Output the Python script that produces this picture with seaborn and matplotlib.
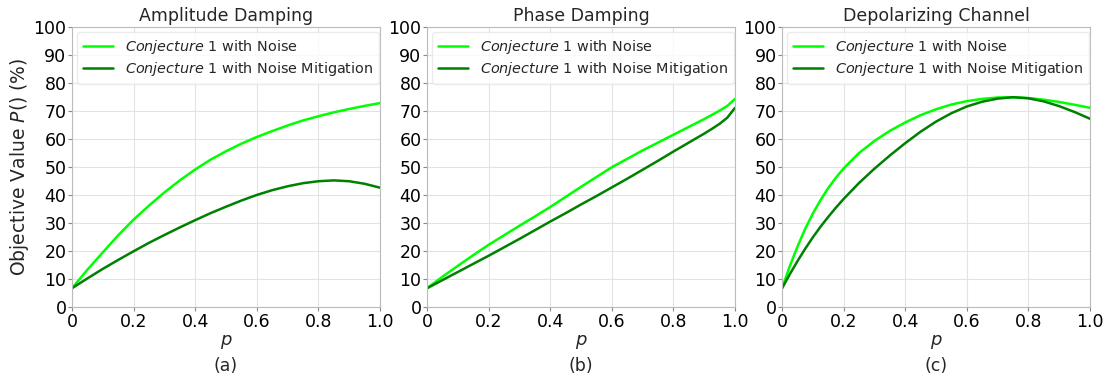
import numpy as np
import pandas as pd
import matplotlib
matplotlib.use("Agg")
import matplotlib.pyplot as plt
import seaborn as sns

amp_p = [0.00, 0.05, 0.10, 0.15, 0.20, 0.25, 0.30, 0.35, 0.40, 0.45, 0.50,
         0.55, 0.60, 0.65, 0.70, 0.75, 0.80, 0.85, 0.90, 0.95, 1.00]
amp_noise = [6.7, 13.3, 19.5, 25.6, 31.2, 36.2, 40.9, 45.2, 49.1, 52.6, 55.6,
             58.3, 60.7, 62.8, 64.8, 66.6, 68.1, 69.5, 70.7, 71.8, 72.8]
amp_mitig = [6.7, 10.2, 13.6, 16.8, 19.9, 22.9, 25.7, 28.4, 31.0, 33.5, 35.8,
             38.0, 40.0, 41.7, 43.1, 44.2, 44.9, 45.2, 44.9, 44.0, 42.6]

phase_p = [0.00, 0.05, 0.10, 0.15, 0.20, 0.25, 0.30, 0.35, 0.40, 0.45, 0.50,
           0.55, 0.60, 0.65, 0.70, 0.75, 0.80, 0.85, 0.90, 0.925, 0.95, 0.975, 1.00]
phase_noise = [6.7, 10.8, 14.7, 18.5, 22.2, 25.6, 29.0, 32.3, 35.7, 39.3, 42.9,
               46.4, 49.9, 52.9, 55.9, 58.7, 61.5, 64.3, 67.1, 68.6, 70.1, 71.8, 74.3]
phase_mitig = [6.7, 9.6, 12.5, 15.4, 18.3, 21.3, 24.3, 27.4, 30.5, 33.5, 36.6,
               39.6, 42.7, 45.8, 49.0, 52.2, 55.5, 58.7, 61.9, 63.6, 65.4, 67.6, 71.1]

depol_p = [0.00, 0.025, 0.05, 0.075, 0.10, 0.125, 0.15, 0.175, 0.20, 0.25, 0.30,
           0.35, 0.40, 0.45, 0.50, 0.55, 0.60, 0.65, 0.70, 0.75, 0.80, 0.85,
           0.90, 0.95, 1.00]
depol_noise = [6.7, 14.6, 21.6, 27.9, 33.4, 38.2, 42.5, 46.2, 49.5, 55.0, 59.3,
               62.9, 65.9, 68.5, 70.6, 72.3, 73.5, 74.3, 74.8, 74.9, 74.6, 74.0,
               73.2, 72.2, 71.1]
depol_mitig = [6.7, 11.7, 16.4, 20.8, 24.9, 28.7, 32.2, 35.5, 38.6, 44.3, 49.4,
               54.1, 58.5, 62.6, 66.2, 69.2, 71.6, 73.3, 74.4, 74.9, 74.5, 73.4,
               71.7, 69.6, 67.2]

titles = ["Amplitude Damping", "Phase Damping", "Depolarizing Channel"]
captions = ["(a)", "(b)", "(c)"]
series_labels = [r"$\it{Conjecture}$ 1 with Noise",
                 r"$\it{Conjecture}$ 1 with Noise Mitigation"]
x_ticks = [0, 0.2, 0.4, 0.6, 0.8, 1.0]
x_tick_labels = ["0", "0.2", "0.4", "0.6", "0.8", "1.0"]
y_ticks = [0, 10, 20, 30, 40, 50, 60, 70, 80, 90, 100]

panels = [(amp_p, amp_noise, amp_mitig), (phase_p, phase_noise, phase_mitig),
          (depol_p, depol_noise, depol_mitig)]

sns.set_style("whitegrid", {"axes.edgecolor": "#bbbbbb", "grid.color": "#e3e3e3",
                            "xtick.bottom": True, "ytick.left": True})
plt.rcParams['font.family'] = ['DejaVu Sans']
plt.rcParams['mathtext.fontset'] = 'dejavusans'

fig, axes = plt.subplots(1, 3, figsize=(11.18, 3.79), dpi=100)
fig.subplots_adjust(left=0.0644, right=0.975, bottom=0.19, top=0.929, wspace=0.153)

colors = ["#00ff00", "#008000"]
for i, ax in enumerate(axes):
    pv, noise, mitig = panels[i]
    df = pd.DataFrame({"p": list(pv) * 2,
                       "val": list(noise) + list(mitig),
                       "series": [series_labels[0]] * len(pv) + [series_labels[1]] * len(pv)})
    sns.lineplot(data=df, x="p", y="val", hue="series", palette=colors, ax=ax,
                 linewidth=1.8)
    ax.set_xlim(0, 1)
    ax.set_ylim(0, 100)
    ax.set_xticks(x_ticks)
    ax.set_xticklabels(x_tick_labels)
    ax.set_yticks(y_ticks)
    ax.tick_params(axis="both", labelsize=12.5, colors="#888888", labelcolor="black",
                   direction="out", length=3, width=0.8, pad=1)
    ax.set_title(titles[i], fontsize=12.5, pad=4)
    ax.set_xlabel(r"$p$", fontsize=13, labelpad=2)
    ax.set_ylabel("")
    for s in ax.spines.values():
        s.set_color("#bbbbbb")
        s.set_linewidth(0.8)
    leg = ax.legend(loc="upper left", fontsize=10.4, frameon=True, handlelength=2.1,
                    borderaxespad=0.35, labelspacing=0.3)
    leg.get_frame().set_edgecolor("#e6e6e6")
    ax.text(0.5, -0.178, captions[i], transform=ax.transAxes, ha="center", va="top",
            fontsize=12.5)

axes[0].set_ylabel(r"Objective Value $P()$ (%)", fontsize=13.5, labelpad=2)

fig.savefig("out.png", dpi=100)
